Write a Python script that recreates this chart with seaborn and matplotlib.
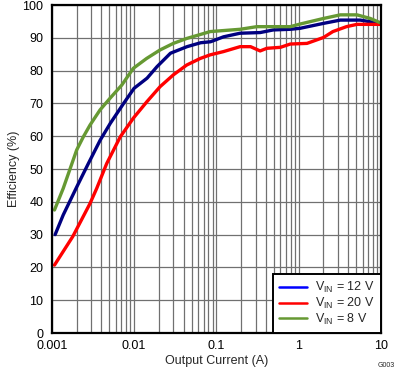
import numpy as np
import pandas as pd
import matplotlib
matplotlib.use("Agg")
import matplotlib.pyplot as plt
import seaborn as sns
from matplotlib.lines import Line2D

# Efficiency vs output current
i_12v = [0.0011, 0.00138, 0.00202, 0.00279, 0.00388, 0.00514, 0.00747, 0.01, 0.0144, 0.019,
         0.0277, 0.044, 0.0645, 0.085, 0.122, 0.194, 0.34, 0.49, 0.79, 1.04, 2.0, 3.2, 5.6, 7.4, 9.8]
eff_12v = [30, 36, 44.6, 51.7, 58.8, 63.9, 70.0, 74.6, 77.7, 81.2,
           85.3, 87.3, 88.5, 88.8, 90.3, 91.4, 91.6, 92.4, 92.6, 92.9, 94.4, 95.4, 95.4, 94.9, 94.4]

i_20v = [0.00108, 0.0018, 0.0023, 0.00292, 0.00352, 0.00466, 0.0068, 0.0098, 0.0143, 0.0207,
         0.030, 0.0436, 0.0636, 0.084, 0.122, 0.194, 0.26, 0.34, 0.41, 0.6, 0.79, 1.26, 2.0, 2.6,
         3.8, 5.1, 9.8]
eff_20v = [20.7, 29.4, 34.5, 39.5, 44.1, 51.7, 59.8, 65.5, 70.5, 75.1,
           78.7, 81.7, 83.7, 84.8, 85.8, 87.3, 87.3, 86.0, 86.8, 87.1, 88.1, 88.3, 90.1, 91.9,
           93.4, 94.1, 94.1]

i_8v = [0.00108, 0.00138, 0.00201, 0.00242, 0.00292, 0.00386, 0.00512, 0.0071, 0.0098, 0.0142,
        0.0207, 0.030, 0.0436, 0.0636, 0.084, 0.194, 0.31, 0.79, 1.04, 2.0, 3.2, 5.1, 7.4, 9.8]
eff_8v = [37.5, 44.1, 55.8, 59.8, 63.4, 68.0, 71.6, 75.6, 80.7, 83.7,
          86.3, 88.3, 89.8, 91.0, 91.9, 92.6, 93.4, 93.4, 94.2, 95.9, 97.0, 97.0, 95.9, 94.6]

labels = [r"V$_{\mathregular{IN}}$ = 12 V", r"V$_{\mathregular{IN}}$ = 20 V", r"V$_{\mathregular{IN}}$ = 8 V"]
plot_colors = ["#000080", "#FF0000", "#669933"]
legend_colors = ["#0000FF", "#FF0000", "#669933"]

df = pd.concat([
    pd.DataFrame({"current": i_12v, "eff": eff_12v, "series": labels[0]}),
    pd.DataFrame({"current": i_20v, "eff": eff_20v, "series": labels[1]}),
    pd.DataFrame({"current": i_8v, "eff": eff_8v, "series": labels[2]}),
])

sns.set_style("white")
plt.rcParams["font.family"] = ["Liberation Sans", "DejaVu Sans"]
plt.rcParams["mathtext.fontset"] = "custom"
plt.rcParams["mathtext.rm"] = "Liberation Sans"

fig = plt.figure(figsize=(3.96, 3.77), dpi=100)
ax = fig.add_axes([0.1306, 0.1167, 0.8316, 0.8700])

# grid goes under the curves
ax.set_xscale("log")
ax.set_xlim(0.001, 10)
ax.set_ylim(0, 100)
ax.set_yticks(range(0, 101, 10))
ax.set_xticks([0.001, 0.01, 0.1, 1, 10])
ax.set_xticklabels(["0.001", "0.01", "0.1", "1", "10"])
ax.grid(True, which="major", color="#707070", lw=0.9)
ax.grid(True, which="minor", axis="x", color="#707070", lw=0.9)
ax.set_axisbelow(True)

sns.lineplot(data=df, x="current", y="eff", hue="series", palette=plot_colors,
             lw=2.4, ax=ax, legend=False, estimator=None, sort=True)

ax.tick_params(which="both", length=0, labelsize=9, colors="black")
ax.tick_params(axis="y", pad=6)
ax.tick_params(axis="x", pad=5)
ax.set_xlabel("Output Current (A)", fontsize=9, labelpad=2)
ax.set_ylabel("Efficiency (%)", fontsize=9, labelpad=2)
for s in ax.spines.values():
    s.set_color("black")
    s.set_linewidth(1.6)

handles = [Line2D([0], [0], color=c, lw=1.8) for c in legend_colors]
leg = ax.legend(handles, labels, loc="lower right", fontsize=9, frameon=True, fancybox=False,
                borderaxespad=0, handlelength=2.2, handletextpad=0.7, labelspacing=0.05,
                borderpad=0.5)
leg.get_frame().set_edgecolor("black")
leg.get_frame().set_linewidth(1.4)
leg.get_frame().set_alpha(1)

fig.text(0.997, 0.02, "G003", fontsize=5, ha="right", va="bottom")

fig.savefig("out.png", dpi=100)
